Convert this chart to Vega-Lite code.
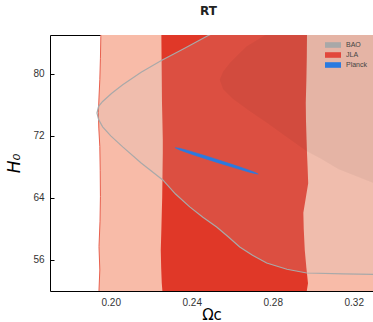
{
  "$schema": "https://vega.github.io/schema/vega-lite/v6.json",
  "width": 323,
  "height": 256,
  "autosize": {"type": "none"},
  "padding": {"left": 50, "top": 35, "right": 0, "bottom": 31},
  "title": {"text": "RT", "fontSize": 12, "fontWeight": "bold", "font": "DejaVu Sans", "color": "#222", "offset": 17, "anchor": "middle", "dx": -3},
  "config": {
    "view": {"stroke": null},
    "axis": {"domainColor": "#000", "tickColor": "#000", "grid": false, "labelFont": "Liberation Sans", "labelFontSize": 10, "labelColor": "#333", "tickSize": 4, "titleFont": "DejaVu Sans", "titleFontSize": 16, "titleColor": "#000", "titleFontWeight": "normal", "zindex": 1}
  },
  "resolve": {"axis": {"x": "independent", "y": "independent"}},
  "datasets": {
    "light": [
      {"y": 50, "x": 0.1943}, {"y": 52.13, "x": 0.1942}, {"y": 54.71, "x": 0.1946}, {"y": 57.72, "x": 0.1942},
      {"y": 61, "x": 0.1947}, {"y": 64.17, "x": 0.1949}, {"y": 67.5, "x": 0.1948}, {"y": 70.62, "x": 0.1946},
      {"y": 73, "x": 0.1941}, {"y": 74.97, "x": 0.1939}, {"y": 77, "x": 0.1942}, {"y": 79.23, "x": 0.1946},
      {"y": 82, "x": 0.1949}, {"y": 84.81, "x": 0.1951}, {"y": 87, "x": 0.1952}
    ],
    "red": [
      {"y": 50, "xl": 0.2255, "xr": 0.2972}, {"y": 52, "xl": 0.2255, "xr": 0.2968}, {"y": 53, "xl": 0.2252, "xr": 0.2974},
      {"y": 55, "xl": 0.2249, "xr": 0.2966}, {"y": 57.3, "xl": 0.2247, "xr": 0.2958}, {"y": 60, "xl": 0.225, "xr": 0.2953},
      {"y": 62.1, "xl": 0.2252, "xr": 0.2951}, {"y": 64, "xl": 0.2254, "xr": 0.2963}, {"y": 65.9, "xl": 0.2255, "xr": 0.2975},
      {"y": 68, "xl": 0.2256, "xr": 0.2972}, {"y": 69.8, "xl": 0.2257, "xr": 0.2969}, {"y": 71.5, "xl": 0.2257, "xr": 0.2967},
      {"y": 74, "xl": 0.2255, "xr": 0.2964}, {"y": 76.3, "xl": 0.2253, "xr": 0.2963}, {"y": 79.2, "xl": 0.2252, "xr": 0.2966},
      {"y": 82, "xl": 0.2251, "xr": 0.2968}, {"y": 84.9, "xl": 0.225, "xr": 0.2969}, {"y": 87, "xl": 0.225, "xr": 0.2969}
    ],
    "bao": [
      {"y": 54.15, "x": 0.3295}, {"y": 54.2, "x": 0.315}, {"y": 54.32, "x": 0.2968}, {"y": 54.8, "x": 0.287},
      {"y": 55.61, "x": 0.277}, {"y": 56.6, "x": 0.27}, {"y": 57.68, "x": 0.2637}, {"y": 59, "x": 0.258},
      {"y": 60.26, "x": 0.2523}, {"y": 61.5, "x": 0.2455}, {"y": 62.84, "x": 0.239}, {"y": 64.5, "x": 0.232},
      {"y": 66.32, "x": 0.2257}, {"y": 68.5, "x": 0.215}, {"y": 70.58, "x": 0.2059}, {"y": 72, "x": 0.2},
      {"y": 73.16, "x": 0.196}, {"y": 74.1, "x": 0.194}, {"y": 74.93, "x": 0.1932}, {"y": 75.8, "x": 0.194},
      {"y": 76.43, "x": 0.196}, {"y": 77.5, "x": 0.2005}, {"y": 78.58, "x": 0.2059}, {"y": 80.2, "x": 0.215},
      {"y": 81.72, "x": 0.225}, {"y": 83.3, "x": 0.2365}, {"y": 84.9, "x": 0.2479}, {"y": 86.5, "x": 0.26}
    ],
    "baoin": [
      {"y": 63, "x": 0.36}, {"y": 64.5, "x": 0.34}, {"y": 65.97, "x": 0.3294}, {"y": 67.7, "x": 0.3125},
      {"y": 69, "x": 0.304}, {"y": 70.06, "x": 0.2966}, {"y": 72, "x": 0.286}, {"y": 73.72, "x": 0.2769},
      {"y": 75.3, "x": 0.268}, {"y": 76.74, "x": 0.2604}, {"y": 78, "x": 0.2555}, {"y": 79.23, "x": 0.2538},
      {"y": 80.3, "x": 0.2555}, {"y": 81.38, "x": 0.2588}, {"y": 82.5, "x": 0.263}, {"y": 83.52, "x": 0.267},
      {"y": 84.81, "x": 0.2751}, {"y": 86.3, "x": 0.2859}
    ],
    "planck": [
      {"s": "Planck", "x": 0.2318, "lo": 70.48, "hi": 70.48}, {"s": "Planck", "x": 0.234, "lo": 70.19, "hi": 70.39},
      {"s": "Planck", "x": 0.2371, "lo": 69.89, "hi": 70.19}, {"s": "Planck", "x": 0.2421, "lo": 69.44, "hi": 69.8},
      {"s": "Planck", "x": 0.2471, "lo": 69.02, "hi": 69.4}, {"s": "Planck", "x": 0.2524, "lo": 68.58, "hi": 68.96},
      {"s": "Planck", "x": 0.2574, "lo": 68.18, "hi": 68.54}, {"s": "Planck", "x": 0.2624, "lo": 67.78, "hi": 68.1},
      {"s": "Planck", "x": 0.2676, "lo": 67.38, "hi": 67.64}, {"s": "Planck", "x": 0.271, "lo": 67.15, "hi": 67.31},
      {"s": "Planck", "x": 0.2728, "lo": 67.08, "hi": 67.08}
    ]
  },
  "layer": [
    {
      "data": {"name": "light"},
      "mark": {"type": "area", "orient": "horizontal", "color": "#f8bba8", "opacity": 1, "clip": true},
      "encoding": {
        "y": {"field": "y", "type": "quantitative", "scale": {"domain": [52, 85], "nice": false, "zero": false},
              "axis": {"orient": "left", "values": [56, 64, 72, 80], "ticks": false, "title": "H₀", "titleFontStyle": "italic", "labelPadding": 6, "titlePadding": 9, "titleFontSize": 17}},
        "x": {"field": "x", "type": "quantitative", "scale": {"domain": [0.17, 0.3295], "nice": false, "zero": false},
              "axis": {"orient": "bottom", "values": [0.2, 0.24, 0.28, 0.32], "ticks": false, "format": ".2f", "title": "Ωc", "labelPadding": 6, "titlePadding": 0, "titleFontSize": 15}},
        "x2": {"datum": 0.36}
      }
    },
    {
      "data": {"name": "light"},
      "mark": {"type": "line", "color": "#e8604e", "strokeWidth": 1, "clip": true},
      "encoding": {
        "x": {"field": "x", "type": "quantitative", "axis": {"orient": "bottom", "values": [0.2, 0.24, 0.28, 0.32], "labels": false, "domain": false, "title": null, "offset": -4}},
        "y": {"field": "y", "type": "quantitative", "axis": {"orient": "left", "values": [56, 64, 72, 80], "labels": false, "domain": false, "title": null, "offset": -4}},
        "order": {"field": "y"}
      }
    },
    {
      "data": {"name": "red"},
      "mark": {"type": "area", "orient": "horizontal", "color": "#e03828", "opacity": 1, "clip": true},
      "encoding": {
        "y": {"field": "y", "type": "quantitative", "axis": {"orient": "right", "values": [56, 64, 72, 80], "labels": false, "domain": false, "title": null, "offset": -4}},
        "x": {"field": "xl", "type": "quantitative", "axis": {"orient": "top", "ticks": false, "labels": false, "title": null}},
        "x2": {"field": "xr"}
      }
    },
    {
      "data": {"name": "bao"},
      "mark": {"type": "area", "orient": "horizontal", "color": "#c4c4c4", "opacity": 0.16, "clip": true},
      "encoding": {
        "y": {"field": "y", "type": "quantitative", "axis": null},
        "x": {"field": "x", "type": "quantitative", "axis": {"orient": "top", "values": [0.2, 0.24, 0.28, 0.32], "labels": false, "domain": false, "title": null, "offset": -4}},
        "x2": {"datum": 0.36}
      }
    },
    {
      "data": {"name": "baoin"},
      "mark": {"type": "area", "orient": "horizontal", "color": "#000000", "opacity": 0.045, "clip": true},
      "encoding": {
        "y": {"field": "y", "type": "quantitative", "axis": null},
        "x": {"field": "x", "type": "quantitative", "axis": null},
        "x2": {"datum": 0.36}
      }
    },
    {
      "data": {"name": "bao"},
      "mark": {"type": "line", "color": "#a9a9a9", "strokeWidth": 1.2, "clip": true},
      "encoding": {
        "x": {"field": "x", "type": "quantitative", "axis": null},
        "y": {"field": "y", "type": "quantitative", "axis": null},
        "order": {"field": "y"}
      }
    },
    {
      "data": {"name": "planck"},
      "mark": {"type": "area", "opacity": 1, "strokeWidth": 0.6, "clip": true},
      "encoding": {
        "x": {"field": "x", "type": "quantitative", "axis": null},
        "y": {"field": "lo", "type": "quantitative", "axis": null},
        "y2": {"field": "hi"},
        "color": {"field": "s", "type": "nominal",
          "scale": {"domain": ["BAO", "JLA", "Planck"], "range": ["#a8a8a8", "#e2473b", "#2a7ae0"]},
          "legend": {"orient": "none", "legendX": 275, "legendY": 6, "title": null, "padding": 0,
            "symbolType": "M-1,-0.35H1V0.35H-1Z", "symbolSize": 256, "symbolStrokeWidth": 0, "symbolOpacity": 1,
            "clipHeight": 8, "rowPadding": 2, "labelOffset": 5, "labelFontSize": 7, "labelFont": "Liberation Sans", "labelColor": "#444"}},
        "stroke": {"value": "#2a7ae0"}
      }
    }
  ]
}
